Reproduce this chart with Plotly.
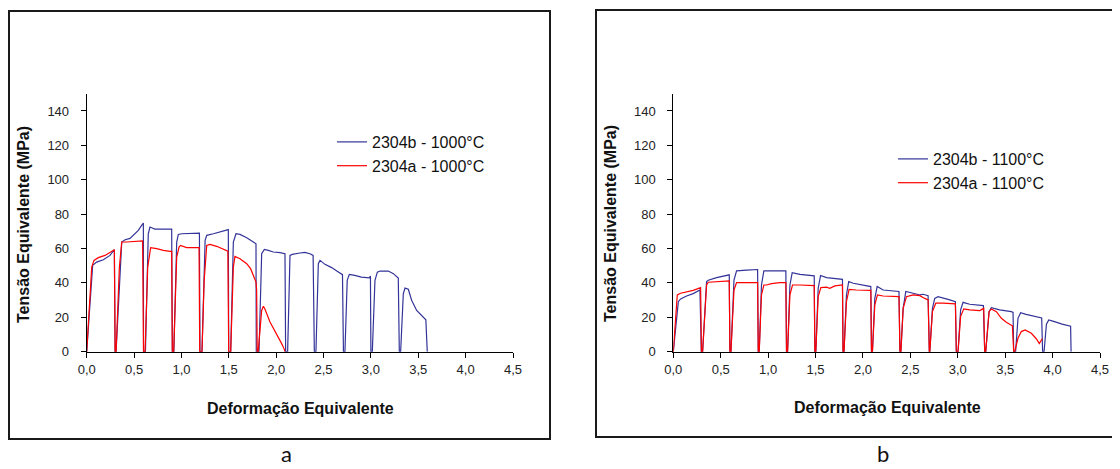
import plotly.graph_objects as go

# ---------------- data ----------------
# panel a : 1000 °C
b1000_x = [0, 0.063, 0.105, 0.176, 0.246, 0.292, 0.30,
           0.31, 0.37, 0.405, 0.457, 0.49, 0.545, 0.58, 0.598, 0.60,
           0.62, 0.65, 0.668, 0.686, 0.72, 0.81, 0.897, 0.904,
           0.92, 0.95, 0.967, 1.003, 1.09, 1.19, 1.196,
           1.217, 1.25, 1.267, 1.337, 1.407, 1.495, 1.499,
           1.52, 1.548, 1.576, 1.618, 1.689, 1.759, 1.787, 1.79,
           1.819, 1.847, 1.875, 1.917, 1.97, 2.04, 2.093, 2.10,
           2.121, 2.146, 2.17, 2.25, 2.304, 2.357, 2.39, 2.403,
           2.42, 2.445, 2.463, 2.515, 2.586, 2.64, 2.69, 2.70, 2.71,
           2.726, 2.75, 2.772, 2.83, 2.90, 2.983, 2.995, 3.0,
           3.015, 3.043, 3.068, 3.096, 3.184, 3.237, 3.289, 3.30,
           3.314, 3.342, 3.36, 3.395, 3.43, 3.483, 3.536, 3.58, 3.595]
b1000_y = [0, 50.2, 52.1, 53.5, 56, 59.3, 0,
           0, 63.8, 65.1, 65.9, 67.7, 70.6, 73.5, 74.8, 0,
           0, 68.6, 72.5, 72.1, 71.3, 71.3, 71.3, 0,
           0, 63.8, 68.2, 68.6, 68.6, 69, 0,
           0, 64.8, 67.7, 68.6, 69.6, 71, 0,
           0, 63.8, 68.6, 68.2, 66.3, 63.8, 62.8, 0,
           0, 57, 59.5, 58.9, 58, 57.6, 57, 0,
           0, 56, 56.6, 57.4, 57.8, 57, 56, 0,
           0, 51.2, 53.1, 50.8, 48.9, 46.9, 45, 44.8, 0,
           0, 41.5, 45, 44.4, 43.4, 43, 44, 0,
           0, 41.5, 46.3, 46.9, 46.9, 45.4, 42.8, 0,
           0, 33.7, 37, 36.3, 29.9, 24, 21.1, 18.6, 0]

a1000_x = [0, 0.053, 0.077, 0.123, 0.193, 0.264, 0.292, 0.30,
           0.31, 0.345, 0.37, 0.422, 0.493, 0.563, 0.59, 0.60,
           0.616, 0.644, 0.675, 0.739, 0.809, 0.88, 0.897, 0.904,
           0.918, 0.95, 0.975, 0.99, 1.055, 1.186, 1.193,
           1.217, 1.24, 1.267, 1.30, 1.372, 1.44, 1.49, 1.499,
           1.52, 1.548, 1.565, 1.618, 1.689, 1.73, 1.766, 1.787, 1.794, 1.80,
           1.81, 1.847, 1.865, 1.88, 1.935, 2.005, 2.058, 2.083, 2.093]
a1000_y = [0, 49.2, 53.1, 54.7, 56, 58.4, 59.3, 0,
           0, 49.2, 63.8, 63.8, 64.2, 64.4, 64.4, 0,
           0, 49.2, 60.5, 59.9, 58.9, 58.4, 58.4, 0,
           0, 55, 60.9, 61.8, 60.5, 60.5, 0,
           0, 41.5, 61.8, 62.4, 61.3, 59.9, 58.5, 0,
           0, 49.2, 55.4, 54.1, 51.2, 48.3, 43.4, 40.5, 35.7, 0,
           0, 24, 26.4, 25, 17.3, 10.5, 4.7, 1.8, 0]

# panel b : 1100 °C
b1100_x = [0, 0.053, 0.077, 0.14, 0.21, 0.281, 0.295,
           0.309, 0.351, 0.369, 0.457, 0.58, 0.59, 0.597,
           0.608, 0.64, 0.667, 0.773, 0.843, 0.889, 0.896,
           0.906, 0.93, 0.955, 1.054, 1.187, 1.194,
           1.205, 1.23, 1.254, 1.335, 1.423, 1.486, 1.493,
           1.503, 1.528, 1.553, 1.616, 1.721, 1.784, 1.79,
           1.80, 1.826, 1.85, 1.897, 2.0, 2.083, 2.09,
           2.10, 2.125, 2.15, 2.213, 2.30, 2.38, 2.39,
           2.40, 2.424, 2.452, 2.53, 2.6, 2.634, 2.687, 2.70,
           2.705, 2.733, 2.757, 2.792, 2.845, 2.915, 2.975, 2.985,
           3.003, 3.03, 3.056, 3.126, 3.27, 3.284,
           3.295, 3.33, 3.354, 3.442, 3.565, 3.583, 3.59,
           3.61, 3.635, 3.663, 3.72, 3.80, 3.885, 3.895,
           3.91, 3.935, 3.96, 4.02, 4.10, 4.19, 4.195]
b1100_y = [0, 29.1, 30.7, 32.4, 33.8, 35.9, 0,
           0, 40.8, 41.6, 43.1, 44.3, 44.7, 0,
           0, 41.7, 47, 47.4, 47.6, 47.8, 0,
           0, 38.8, 47, 47, 47, 0,
           0, 38.8, 46, 45, 44.3, 44.1, 0,
           0, 36.9, 44.3, 43.1, 42.3, 42.1, 0,
           0, 33, 40.8, 39.8, 38.8, 37.9, 0,
           0, 31, 37.9, 35.9, 35.3, 35, 0,
           0, 25.2, 35, 34, 33, 33.4, 32.6, 0,
           0, 25.2, 31, 32, 31, 30.1, 29.1, 0,
           0, 24.3, 28.7, 27.6, 26.8, 0,
           0, 23.3, 25.6, 24.3, 23.3, 22.9, 0,
           0, 19.4, 22.7, 21.7, 20.8, 19.6, 0,
           0, 16, 18.5, 17.5, 16, 14.8, 0]

a1100_x = [0, 0.042, 0.077, 0.14, 0.21, 0.288, 0.297,
           0.309, 0.351, 0.369, 0.457, 0.562, 0.59, 0.597,
           0.608, 0.64, 0.667, 0.773, 0.889, 0.896,
           0.906, 0.93, 0.955, 0.983, 1.036, 1.124, 1.187, 1.194,
           1.205, 1.23, 1.257, 1.335, 1.486, 1.493,
           1.503, 1.528, 1.556, 1.616, 1.65, 1.704, 1.784, 1.79,
           1.80, 1.826, 1.854, 1.93, 2.02, 2.083, 2.09,
           2.10, 2.125, 2.153, 2.213, 2.318, 2.38, 2.39,
           2.40, 2.424, 2.459, 2.53, 2.6, 2.652, 2.687, 2.70,
           2.705, 2.733, 2.768, 2.845, 2.975, 2.985,
           3.003, 3.03, 3.063, 3.126, 3.232, 3.274, 3.284,
           3.295, 3.33, 3.354, 3.407, 3.46, 3.512, 3.576, 3.59,
           3.601, 3.635, 3.67, 3.71, 3.776, 3.83, 3.86, 3.89]
a1100_y = [0, 33, 34, 34.6, 35.7, 37.3, 0,
           0, 38.8, 40.4, 40.8, 41.2, 41.2, 0,
           0, 35.9, 40.2, 40.2, 40.2, 0,
           0, 33, 38.8, 38.8, 39.6, 40.2, 40.2, 0,
           0, 33, 38.8, 38.8, 38.4, 0,
           0, 32, 37.3, 37.5, 36.9, 38.3, 38.8, 0,
           0, 29.1, 36.3, 35.9, 35.9, 35.7, 0,
           0, 27.2, 33, 32.4, 32, 32, 0,
           0, 25.2, 32, 33, 32.6, 31, 30.1, 0,
           0, 23.3, 28.2, 28.2, 27.8, 0,
           0, 20.4, 24.9, 24.3, 23.9, 25.2, 0,
           0, 23.3, 24.9, 23.3, 19.4, 17.1, 15.1, 0,
           0, 7.8, 11.7, 12.7, 10.7, 7.4, 4.7, 7.5]

names_a = ["2304b - 1000°C", "2304a - 1000°C"]
names_b = ["2304b - 1100°C", "2304a - 1100°C"]
y_title = "Tensão Equivalente (MPa)"
x_title = "Deformação Equivalente"
panel_labels = ["a", "b"]

BLUE = "#333399"
RED = "#ff0000"
OFF = 8                      # page body margin of the html page
W, H = 1120 - OFF, 469 - OFF
FONT = "Liberation Sans, Arial, sans-serif"


def fx(p):
    return (p - OFF) / W


def fy(p):
    return 1 - (p - OFF) / H


fig = go.Figure()
fig.add_trace(go.Scatter(x=b1000_x, y=b1000_y, mode="lines", name=names_a[0],
                         line=dict(color=BLUE, width=1.2), xaxis="x", yaxis="y", legend="legend"))
fig.add_trace(go.Scatter(x=a1000_x, y=a1000_y, mode="lines", name=names_a[1],
                         line=dict(color=RED, width=1.2), xaxis="x", yaxis="y", legend="legend"))
fig.add_trace(go.Scatter(x=b1100_x, y=b1100_y, mode="lines", name=names_b[0],
                         line=dict(color=BLUE, width=1.2), xaxis="x2", yaxis="y2", legend="legend2"))
fig.add_trace(go.Scatter(x=a1100_x, y=a1100_y, mode="lines", name=names_b[1],
                         line=dict(color=RED, width=1.2), xaxis="x2", yaxis="y2", legend="legend2"))

xax = dict(range=[0, 4.5], dtick=0.5, tick0=0, tickformat=".1f", showline=True, linecolor="#000",
           linewidth=1, ticks="outside", ticklen=5, tickcolor="#000", showgrid=False, zeroline=False,
           tickfont=dict(family=FONT, size=13, color="#222"), ticklabelstandoff=1, fixedrange=True)
yax = dict(range=[0, 150], dtick=20, tick0=0, showline=True, linecolor="#000", linewidth=1,
           ticks="outside", ticklen=5, tickcolor="#000", showgrid=False, zeroline=False,
           tickfont=dict(family=FONT, size=13, color="#222"), ticklabelstandoff=9, fixedrange=True)

ydom = [fy(351.7), fy(93.8)]
fig.update_layout(
    width=W, height=H, template="none", separators=",.",
    margin=dict(l=0, r=0, t=0, b=0, pad=0),
    paper_bgcolor="white", plot_bgcolor="white",
    xaxis=dict(xax, domain=[fx(86.7), fx(513)], anchor="y"),
    yaxis=dict(yax, domain=ydom, anchor="x"),
    xaxis2=dict(xax, domain=[fx(673.3), fx(1100)], anchor="y2"),
    yaxis2=dict(yax, domain=ydom, anchor="x2"),
    legend=dict(x=fx(332), y=fy(125), xanchor="left", yanchor="top", bgcolor="rgba(0,0,0,0)",
                font=dict(family=FONT, size=16, color="#111"), tracegroupgap=0),
    legend2=dict(x=fx(893), y=fy(142), xanchor="left", yanchor="top", bgcolor="rgba(0,0,0,0)",
                 font=dict(family=FONT, size=16, color="#111"), tracegroupgap=0),
    showlegend=True,
)

# panel frames
fig.add_shape(type="rect", xref="paper", yref="paper", x0=fx(9), x1=fx(550), y0=fy(439), y1=fy(11),
              line=dict(color="#1a1a1a", width=2))
fig.add_shape(type="rect", xref="paper", yref="paper", x0=fx(596), x1=fx(1130), y0=fy(437), y1=fy(10),
              line=dict(color="#1a1a1a", width=2))

# axis titles
for cx, cy in [(23, 225), (610, 224)]:
    fig.add_annotation(text="<b>" + y_title + "</b>", xref="paper", yref="paper", x=fx(cx), y=fy(cy),
                       showarrow=False, textangle=-90, xanchor="center", yanchor="middle",
                       font=dict(family=FONT, size=16, color="#111"))
for cx, cy in [(300, 408), (887, 407)]:
    fig.add_annotation(text="<b>" + x_title + "</b>", xref="paper", yref="paper", x=fx(cx), y=fy(cy),
                       showarrow=False, xanchor="center", yanchor="middle",
                       font=dict(family=FONT, size=16, color="#111"))

# panel labels
for lab, cx in zip(panel_labels, [286, 883]):
    fig.add_annotation(text=lab, xref="paper", yref="paper", x=fx(cx), y=fy(453), showarrow=False,
                       xanchor="center", yanchor="middle",
                       font=dict(family="Lato, Open Sans, sans-serif", size=22, color="#111"))

fig.write_html("out.html")
